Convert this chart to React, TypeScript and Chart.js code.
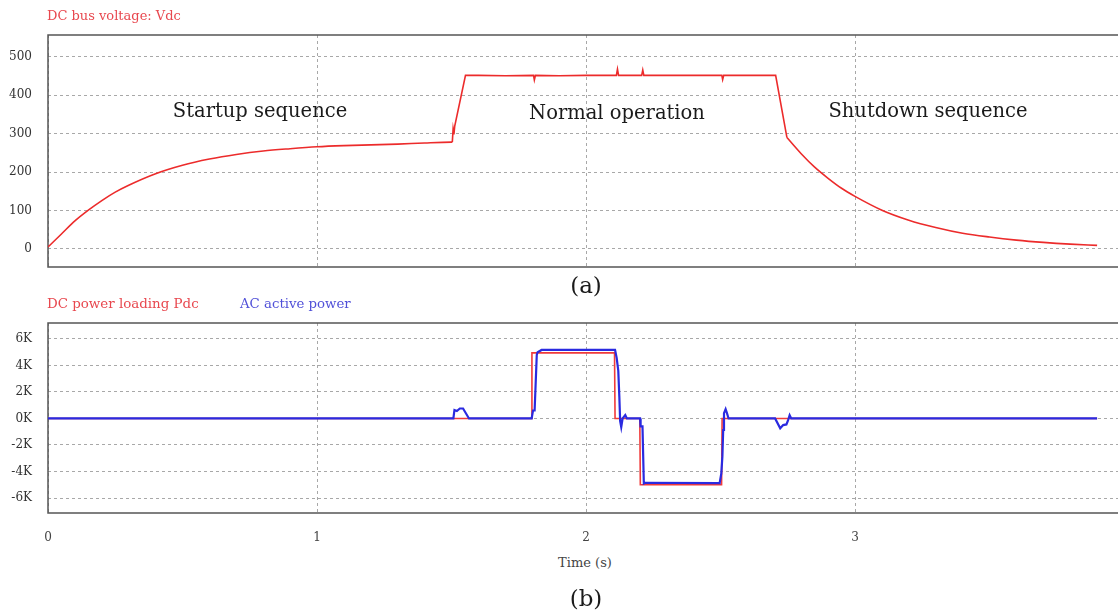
import React, { useEffect, useRef } from 'react';
import { Chart, registerables } from 'chart.js';
Chart.register(...registerables);

// ---- data ----
const X_TICKS = [0, 1, 2, 3, 4];
const VDC_TICKS = [0, 100, 200, 300, 400, 500];
const P_TICKS = [-6000, -4000, -2000, 0, 2000, 4000, 6000];

// DC bus voltage: startup charge (smooth part)
const VDC_START_T = [0, 0.05, 0.1, 0.15, 0.2, 0.25, 0.3, 0.4, 0.5, 0.6, 0.7, 0.8, 0.9, 1.0, 1.1, 1.2, 1.3, 1.4, 1.5, 1.503];
const VDC_START_V = [5, 39, 73, 101, 126, 148, 166, 196, 218, 234, 246, 255, 261, 266, 269, 271, 273, 276, 278, 278];
// DC bus voltage: step-up, normal operation and step-down (straight segments)
const VDC_RUN_T = [1.503, 1.506, 1.509, 1.512, 1.552, 1.6, 1.7, 1.805, 1.808, 1.812, 1.9, 2.0, 2.05, 2.1, 2.113, 2.117, 2.121,
  2.2, 2.207, 2.211, 2.215, 2.3, 2.4, 2.505, 2.508, 2.512, 2.6, 2.705, 2.747];
const VDC_RUN_V = [278, 312, 298, 320, 452, 452, 451, 452, 440, 452, 451, 452, 452, 452, 452, 468, 452,
  452, 452, 466, 452, 452, 452, 452, 441, 452, 452, 452, 290];
// DC bus voltage: shutdown discharge (smooth part)
const VDC_STOP_T = [2.747, 2.8, 2.85, 2.9, 2.95, 3.0, 3.1, 3.2, 3.3, 3.4, 3.5, 3.6, 3.7, 3.8, 3.9];
const VDC_STOP_V = [290, 248, 213, 184, 158, 137, 101, 75, 56, 41, 31, 23, 17, 12.5, 9.3];

const PDC_T = [0, 1.797, 1.799, 2.106, 2.108, 2.200, 2.202, 2.504, 2.506, 3.9];
const PDC_V = [0, 0, 4950, 4950, 0, 0, -5000, -5000, 0, 0];

const PAC_T = [0, 1.507, 1.511, 1.52, 1.531, 1.543, 1.565, 1.798, 1.803, 1.809, 1.817, 1.82, 1.835, 2.108,
  2.114, 2.12, 2.124, 2.127, 2.131, 2.136, 2.146, 2.152, 2.201, 2.203, 2.21, 2.215, 2.22, 2.496,
  2.497, 2.503, 2.507, 2.51, 2.513, 2.519, 2.524, 2.53, 2.703, 2.722, 2.733, 2.745, 2.751, 2.757, 2.763, 3.9];
const PAC_V = [0, 0, 640, 560, 750, 750, 0, 0, 600, 600, 4800, 5000, 5170, 5170,
  4570, 3600, 1600, -200, -650, 0, 250, 0, 0, -600, -600, -4900, -4850, -4870,
  -4850, -4140, -2880, -870, 400, 700, 400, 0, 0, -740, -500, -450, -150, 250, 0, 0];

// ---- helpers ----
const FONT = 'DejaVu Serif';
const zip = (t: number[], v: number[]) => t.map((x, i) => ({ x, y: v[i] }));

const frame = {
  id: 'frame',
  beforeDatasetsDraw(chart: any) {
    const { ctx, chartArea: a } = chart;
    ctx.save();
    ctx.strokeStyle = '#555';
    ctx.lineWidth = 1.5;
    ctx.strokeRect(a.left, a.top, a.right - a.left, a.bottom - a.top);
    ctx.restore();
  },
};

const gridOpts = { color: '#a8a8a8', lineWidth: 1, drawTicks: false };

function makeOptions(yMin: number, yMax: number, yTicks: number[], fmt: (v: number) => string,
  showX: boolean, padTop: number, padBottom: number, xHeight: number) {
  return {
    animation: false,
    responsive: false,
    devicePixelRatio: 1,
    events: [],
    layout: { padding: { top: padTop, bottom: padBottom, left: 0, right: 16 } },
    plugins: { legend: { display: false }, tooltip: { enabled: false }, title: { display: false } },
    scales: {
      x: {
        type: 'linear',
        min: 0,
        max: 4,
        afterBuildTicks: (s: any) => { s.ticks = X_TICKS.map((v) => ({ value: v })); },
        afterFit: (s: any) => { s.height = xHeight; s.paddingLeft = 0; s.paddingRight = 0; },
        grid: { ...gridOpts },
        border: { display: false, dash: [3, 3] },
        ticks: {
          display: showX,
          padding: 18,
          maxRotation: 0,
          color: '#444',
          font: { family: FONT, size: 12 },
          callback: (v: any) => String(v),
        },
      },
      y: {
        type: 'linear',
        min: yMin,
        max: yMax,
        afterBuildTicks: (s: any) => { s.ticks = yTicks.map((v) => ({ value: v })); },
        afterFit: (s: any) => { s.width = 48; s.paddingTop = 0; s.paddingBottom = 0; },
        grid: { ...gridOpts },
        border: { display: false, dash: [3, 3] },
        ticks: {
          padding: 16,
          color: '#333',
          font: { family: FONT, size: 12 },
          callback: (v: any) => fmt(Number(v)),
        },
      },
    },
  } as any;
}

const vdcStyle = { borderColor: '#ec2b2b', borderWidth: 1.6, pointRadius: 0, fill: false };

export default function App() {
  const topRef = useRef<HTMLCanvasElement>(null);
  const botRef = useRef<HTMLCanvasElement>(null);

  useEffect(() => {
    const c1 = new Chart(topRef.current as HTMLCanvasElement, {
      type: 'line',
      data: {
        datasets: [
          { label: 'Vdc startup', data: zip(VDC_START_T, VDC_START_V), cubicInterpolationMode: 'monotone', ...vdcStyle },
          { label: 'Vdc run', data: zip(VDC_RUN_T, VDC_RUN_V), tension: 0, ...vdcStyle },
          { label: 'Vdc shutdown', data: zip(VDC_STOP_T, VDC_STOP_V), cubicInterpolationMode: 'monotone', ...vdcStyle },
        ],
      },
      options: makeOptions(-47, 557, VDC_TICKS, (v) => String(v), false, 35, 8, 0),
      plugins: [frame],
    } as any);

    const c2 = new Chart(botRef.current as HTMLCanvasElement, {
      type: 'line',
      data: {
        datasets: [
          {
            label: 'AC active power',
            data: zip(PAC_T, PAC_V),
            borderColor: '#2a2ae0',
            borderWidth: 2.2,
            pointRadius: 0,
            tension: 0,
            fill: false,
            order: 0,
          },
          {
            label: 'DC power loading Pdc',
            data: zip(PDC_T, PDC_V),
            borderColor: '#f03a3a',
            borderWidth: 1.6,
            pointRadius: 0,
            tension: 0,
            fill: false,
            order: 1,
          },
        ],
      },
      options: makeOptions(-7130, 7200, P_TICKS, (v) => `${v / 1000}K`, true, 23, 0, 40),
      plugins: [frame],
    } as any);

    return () => { c1.destroy(); c2.destroy(); };
  }, []);

  const abs = (s: any) => ({ position: 'absolute', whiteSpace: 'nowrap', fontFamily: FONT, ...s } as any);
  const center = (x: number, y: number, s: any) =>
    abs({ left: x, top: y, transform: 'translate(-50%, -50%)', ...s });

  return (
    <div style={{ position: 'fixed', left: 0, top: 0, width: 1118, height: 614, overflow: 'hidden', background: '#fff' }}>
      <canvas ref={topRef} width={1140} height={275} style={abs({ left: 0, top: 0 })} />
      <canvas ref={botRef} width={1140} height={253} style={abs({ left: 0, top: 300 })} />

      <div style={abs({ left: 47, top: 15, transform: 'translateY(-50%)', fontSize: 13, color: '#e8484f' })}>DC bus voltage: Vdc</div>
      <div style={center(260, 110, { fontSize: 19.5, color: '#1a1a1a' })}>Startup sequence</div>
      <div style={center(617, 112, { fontSize: 19.5, color: '#1a1a1a' })}>Normal operation</div>
      <div style={center(928, 110, { fontSize: 19.5, color: '#1a1a1a' })}>Shutdown sequence</div>
      <div style={center(586, 285, { fontSize: 23, color: '#1a1a1a' })}>(a)</div>

      <div style={abs({ left: 47, top: 303, transform: 'translateY(-50%)', fontSize: 13.4, color: '#e8484f' })}>DC power loading Pdc</div>
      <div style={abs({ left: 240, top: 303, transform: 'translateY(-50%)', fontSize: 13.3, color: '#5050d8' })}>AC active power</div>

      <div style={center(585, 562, { fontSize: 13, color: '#444' })}>Time (s)</div>
      <div style={center(586, 598, { fontSize: 23, color: '#1a1a1a' })}>(b)</div>
    </div>
  );
}
